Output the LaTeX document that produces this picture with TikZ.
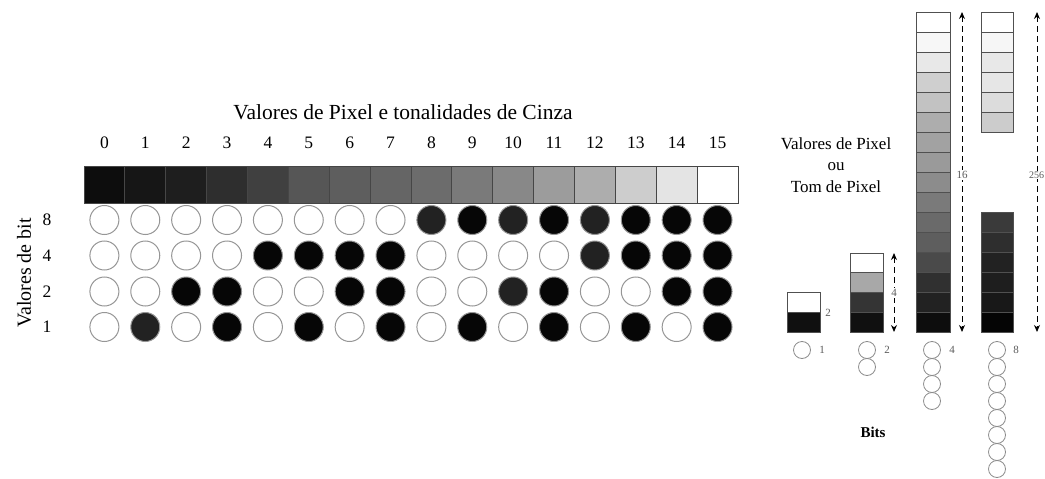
\documentclass[tikz,border=0pt]{standalone}
\usepackage{fontspec}
\setmainfont{Liberation Serif}
\usetikzlibrary{arrows.meta}
\tikzset{
  px/.style={x=1pt,y=-1pt},
  barcell/.style={draw={rgb,255:red,70;green,70;blue,70}, line width=0.9pt, minimum width=40.875pt, minimum height=37pt, inner sep=0pt, outer sep=0pt},
  colcell/.style={draw={rgb,255:red,80;green,80;blue,80}, line width=0.8pt, minimum width=34pt, minimum height=20pt, inner sep=0pt, outer sep=0pt},
  bitc/.style={circle, draw={rgb,255:red,150;green,150;blue,150}, line width=1pt, minimum size=29pt, inner sep=0pt},
  b0/.style={fill=white},
  b1/.style={fill={rgb,255:red,6;green,6;blue,6}},
  b2/.style={fill={rgb,255:red,34;green,34;blue,34}},
  smallc/.style={circle, draw={rgb,255:red,140;green,140;blue,140}, line width=0.8pt, minimum size=17pt, inner sep=0pt},
  numlab/.style={font=\fontsize{17.5}{20}\selectfont, inner sep=0pt},
  tinylab/.style={font=\fontsize{11}{12}\selectfont, text={rgb,255:red,90;green,90;blue,90}, inner sep=1pt, fill=white},
  dasharrow/.style={dashed, dash pattern=on 6pt off 4pt, line width=1pt, {Stealth[length=7pt,width=6pt]}-{Stealth[length=7pt,width=6pt]}},
}
\makeatletter
\expandafter\def\csname dk@8-8\endcsname{}
\expandafter\def\csname dk@8-10\endcsname{}
\expandafter\def\csname dk@8-12\endcsname{}
\expandafter\def\csname dk@4-12\endcsname{}
\expandafter\def\csname dk@2-10\endcsname{}
\expandafter\def\csname dk@1-1\endcsname{}
\makeatother
\begin{document}
\begin{tikzpicture}[px]
\useasboundingbox (0,0) rectangle (1045,479);
% title
\node[font=\fontsize{21.5}{24}\selectfont] (title) at (403,112) {Valores de Pixel e tonalidades de Cinza};
% gray bar and numbers
\foreach \i/\v in {0/13,1/22,2/30,3/46,4/64,5/86,6/94,7/101,8/108,9/122,10/136,11/156,12/173,13/205,14/228,15/255} {
  \node[barcell, fill={rgb,255:red,\v;green,\v;blue,\v}] (bar\i) at ({104.4+40.875*\i},185) {};
  \node[numlab] (n\i) at ({104.4+40.875*\i},143) {\i};
}
% bit circles
\foreach \r/\y in {8/220,4/255.5,2/291.5,1/327} {
  \node[numlab] (r\r) at (47,\y) {\r};
  \foreach \i in {0,...,15} {
    \pgfmathtruncatemacro\b{mod(floor(\i/\r),2)}
    \ifcsname dk@\r-\i\endcsname \def\b{2}\fi
    \node[bitc, b\b] (c\r-\i) at ({104.4+40.875*\i},\y) {};
  }
}
\node[font=\fontsize{20}{24}\selectfont, rotate=90] (vbit) at (24,273) {Valores de bit};
% right side label
\node[font=\fontsize{17}{21.5}\selectfont, align=center] (vp) at (836,165) {Valores de Pixel\\ou\\Tom de Pixel};
% 2-level column
\foreach \k/\v in {0/255,1/16} {
  \node[colcell, minimum width=33pt, fill={rgb,255:red,\v;green,\v;blue,\v}] (ca\k) at (803.5,{302+20*\k}) {};
}
\node[tinylab] (la) at (828,313) {2};
% 4-level column
\foreach \k/\v in {0/255,1/168,2/52,3/16} {
  \node[colcell, minimum width=33pt, fill={rgb,255:red,\v;green,\v;blue,\v}] (cb\k) at (866.5,{263+19.75*\k}) {};
}
\coordinate (tb) at (894,253);
\coordinate (bb) at (894,332);
\draw[dasharrow] (tb) -- (bb);
\node[tinylab] (lb) at (894,293) {4};
% 16-level column
\foreach \k/\v in {0/255,1/247,2/232,3/207,4/194,5/173,6/162,7/154,8/140,9/122,10/106,11/94,12/74,13/48,14/34,15/13} {
  \node[colcell, fill={rgb,255:red,\v;green,\v;blue,\v}] (cc\k) at (933,{22+20*\k}) {};
}
\coordinate (tc) at (962,12);
\coordinate (bc) at (962,332);
\draw[dasharrow] (tc) -- (bc);
\node[tinylab] (lc) at (962,175) {16};
% 256-level column (top and bottom parts)
\foreach \k/\v in {0/255,1/246,2/232,3/230,4/220,5/204} {
  \node[colcell, minimum width=32pt, fill={rgb,255:red,\v;green,\v;blue,\v}] (cdt\k) at (997,{22+20*\k}) {};
}
\foreach \k/\v in {0/58,1/46,2/34,3/30,4/24,5/5} {
  \node[colcell, minimum width=32pt, fill={rgb,255:red,\v;green,\v;blue,\v}] (cdb\k) at (997,{222+20*\k}) {};
}
\coordinate (td) at (1037,12);
\coordinate (bd) at (1037,332);
\draw[dasharrow] (td) -- (bd);
\node[tinylab, font=\fontsize{10}{11}\selectfont, anchor=west, inner sep=0.5pt] (ld) at (1028.5,175) {256};
% bits circles
\node[smallc] (s1-1) at (802,350) {};
\node[tinylab] (s1l) at (822,350) {1};
\foreach \j in {1,2} { \node[smallc] (s2-\j) at (867,{333+17*\j}) {}; }
\node[tinylab] (s2l) at (887,350) {2};
\foreach \j in {1,...,4} { \node[smallc] (s4-\j) at (932,{333+17*\j}) {}; }
\node[tinylab] (s4l) at (952,350) {4};
\foreach \j in {1,...,8} { \node[smallc] (s8-\j) at (997,{333+17*\j}) {}; }
\node[tinylab] (s8l) at (1016,350) {8};
\node[font=\fontsize{15}{18}\selectfont\bfseries] (bits) at (873,432) {Bits};
\end{tikzpicture}
\end{document}
